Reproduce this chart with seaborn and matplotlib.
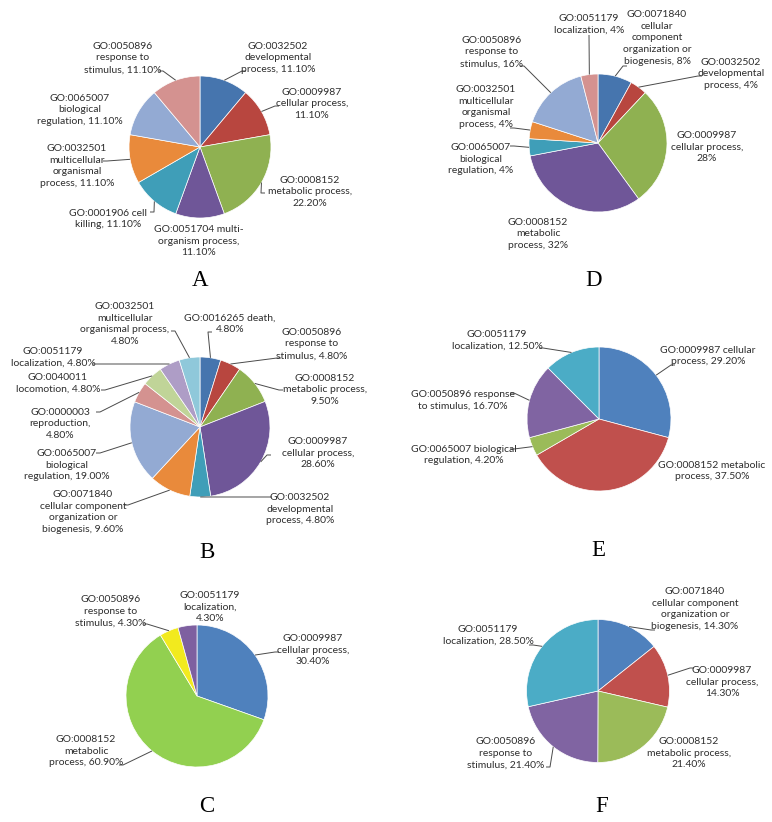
import numpy as np
import matplotlib
matplotlib.use("Agg")
import matplotlib.pyplot as plt
import seaborn as sns

W, H = 772, 822

# ---- data (values in %) ----
a_labels = ["GO:0032502\ndevelopmental\nprocess, {}",
            "GO:0009987\ncellular process,\n{}",
            "GO:0008152\nmetabolic process,\n{}",
            "GO:0051704 multi-\norganism process,\n{}",
            "GO:0001906 cell\nkilling, {}",
            "GO:0032501\nmulticellular\norganismal\nprocess, {}",
            "GO:0065007\nbiological\nregulation, {}",
            "GO:0050896\nresponse to\nstimulus, {}"]
a_values = [11.1, 11.1, 22.2, 11.1, 11.1, 11.1, 11.1, 11.1]

b_labels = ["GO:0016265 death,\n{}",
            "GO:0050896\nresponse to\nstimulus, {}",
            "GO:0008152\nmetabolic process,\n{}",
            "GO:0009987\ncellular process,\n{}",
            "GO:0032502\ndevelopmental\nprocess, {}",
            "GO:0071840\ncellular component\norganization or\nbiogenesis, {}",
            "GO:0065007\nbiological\nregulation, {}",
            "GO:0000003\nreproduction,\n{}",
            "GO:0040011\nlocomotion, {}",
            "GO:0051179\nlocalization, {}",
            "GO:0032501\nmulticellular\norganismal process,\n{}"]
b_values = [4.8, 4.8, 9.5, 28.6, 4.8, 9.6, 19.0, 4.8, 4.8, 4.8, 4.8]

c_labels = ["GO:0009987\ncellular process,\n{}",
            "GO:0008152\nmetabolic\nprocess, {}",
            "GO:0050896\nresponse to\nstimulus, {}",
            "GO:0051179\nlocalization,\n{}"]
c_values = [30.4, 60.9, 4.3, 4.3]

d_labels = ["GO:0071840\ncellular\ncomponent\norganization or\nbiogenesis, {}",
            "GO:0032502\ndevelopmental\nprocess, {}",
            "GO:0009987\ncellular process,\n{}",
            "GO:0008152\nmetabolic\nprocess, {}",
            "GO:0065007\nbiological\nregulation, {}",
            "GO:0032501\nmulticellular\norganismal\nprocess, {}",
            "GO:0050896\nresponse to\nstimulus, {}",
            "GO:0051179\nlocalization, {}"]
d_values = [8, 4, 28, 32, 4, 4, 16, 4]

e_labels = ["GO:0009987 cellular\nprocess, {}",
            "GO:0008152 metabolic\nprocess, {}",
            "GO:0065007 biological\nregulation, {}",
            "GO:0050896 response\nto stimulus, {}",
            "GO:0051179\nlocalization, {}"]
e_values = [29.2, 37.5, 4.2, 16.7, 12.5]

f_labels = ["GO:0071840\ncellular component\norganization or\nbiogenesis, {}",
            "GO:0009987\ncellular process,\n{}",
            "GO:0008152\nmetabolic process,\n{}",
            "GO:0050896\nresponse to\nstimulus, {}",
            "GO:0051179\nlocalization, {}"]
f_values = [14.3, 14.3, 21.4, 21.4, 28.5]

# ---- colours ----
office_dark = ["#4675AE", "#B8463F", "#8FB151", "#6F5698", "#3F9EB8",
               "#E98A3B", "#93AAD3", "#D49290", "#C0D498", "#AE9DC6", "#8FC8DA"]
c_colors = ["#4F81BD", "#92D050", "#F2EA1E", "#7E60A0"]
ef_colors = ["#4F81BD", "#C0504D", "#9BBB59", "#8064A2", "#4BACC6"]

# ---- layout (pixels, y from top) ----
# label centre, connector anchor near the label (None = no leader line)
panels = [
    dict(letter="A", labels=a_labels, values=a_values, fmt="{:.2f}%",
         colors=office_dark[:8], center=(200, 147), r=71, letter_pos=(200, 280),
         text=[(278, 58), (312, 104), (310, 192), (199, 241), (108, 219),
               (77, 166), (80, 110), (123, 58)],
         anchor=[(242, 71), (275, 106), (261, 193), None, (154, 212),
                 (107, 161), None, (163, 71)]),
    dict(letter="B", labels=b_labels, values=b_values, fmt="{:.2f}%",
         colors=office_dark, center=(200, 427), r=70, letter_pos=(207, 552),
         text=[(230, 324), (312, 344), (325, 390), (318, 453), (300, 509),
               (83, 512), (67, 465), (60, 424), (58, 383), (53, 357), (125, 324)],
         anchor=[(208, 332), (277, 358), (279, 390), (267, 455), (268, 497),
                 (128, 505), (100, 453), (100, 412), (105, 390), (97, 364),
                 (175, 331)]),
    dict(letter="C", labels=c_labels, values=c_values, fmt="{:.2f}%",
         colors=c_colors, center=(197, 696), r=71, letter_pos=(207, 806),
         text=[(313, 650), (86, 751), (111, 611), (210, 607)],
         anchor=[(275, 652), (123, 765), (147, 624), None]),
    dict(letter="D", labels=d_labels, values=d_values, fmt="{:.0f}%",
         colors=office_dark[:8], center=(598, 143), r=69, letter_pos=(594, 280),
         text=[(657, 38), (731, 74), (707, 147), (538, 234), (481, 159),
               (486, 107), (492, 52), (589, 24)],
         anchor=[(623, 66), (698, 76), None, None, (514, 146), (514, 128),
                 (524, 66), (589, 35)]),
    dict(letter="E", labels=e_labels, values=e_values, fmt="{:.2f}%",
         colors=ef_colors, center=(599, 419), r=72, letter_pos=(598, 551),
         text=[(708, 356), (712, 471), (464, 455), (463, 400), (497, 340)],
         anchor=[(671, 365), None, (514, 449), (514, 393), (543, 348)]),
    dict(letter="F", labels=f_labels, values=f_values, fmt="{:.2f}%",
         colors=ef_colors, center=(598, 691), r=71.5, letter_pos=(602, 806),
         text=[(695, 609), (722, 682), (689, 753), (506, 753), (488, 635)],
         anchor=[(651, 630), (690, 668), None, (550, 767), (533, 645)]),
]

sns.set_theme(style="white")
plt.rcParams["font.family"] = ["Lato", "DejaVu Sans"]

fig = plt.figure(figsize=(W / 100, H / 100), dpi=100)
ax = fig.add_axes([0, 0, 1, 1])

text_color = "#2e2e2e"
line_color = "#4a4a4a"

for p in panels:
    cx, cy = p["center"]
    r = p["r"]
    wedges, _ = ax.pie(p["values"], colors=p["colors"], startangle=90,
                       counterclock=False, center=(cx, H - cy), radius=r,
                       wedgeprops=dict(edgecolor="white", linewidth=0.5))
    for w, lab, v, tpos, anc in zip(wedges, p["labels"], p["values"],
                                    p["text"], p["anchor"]):
        ax.text(tpos[0], H - tpos[1], lab.format(p["fmt"].format(v)),
                ha="center", va="center", multialignment="center",
                fontsize=7.5, linespacing=1.42, color=text_color)
        if anc is None:
            continue
        th = np.deg2rad((w.theta1 + w.theta2) / 2)
        ex, ey = cx + r * np.cos(th), H - cy + r * np.sin(th)
        xs, ys = [ex, anc[0]], [ey, H - anc[1]]
        dx = tpos[0] - anc[0]
        if abs(dx) > 15:
            xs.append(anc[0] + 4 * np.sign(dx))
            ys.append(H - anc[1])
        ax.plot(xs, ys, color=line_color, lw=0.7, solid_capstyle="butt")
    lx, ly = p["letter_pos"]
    ax.text(lx, H - ly, p["letter"], ha="center", va="center",
            fontsize=16.5, family="Liberation Serif", color="black")

ax.set_xlim(0, W)
ax.set_ylim(0, H)
ax.set_aspect("auto")
ax.set_position([0, 0, 1, 1])
ax.axis("off")

fig.savefig("out.png", dpi=100, facecolor="white")
